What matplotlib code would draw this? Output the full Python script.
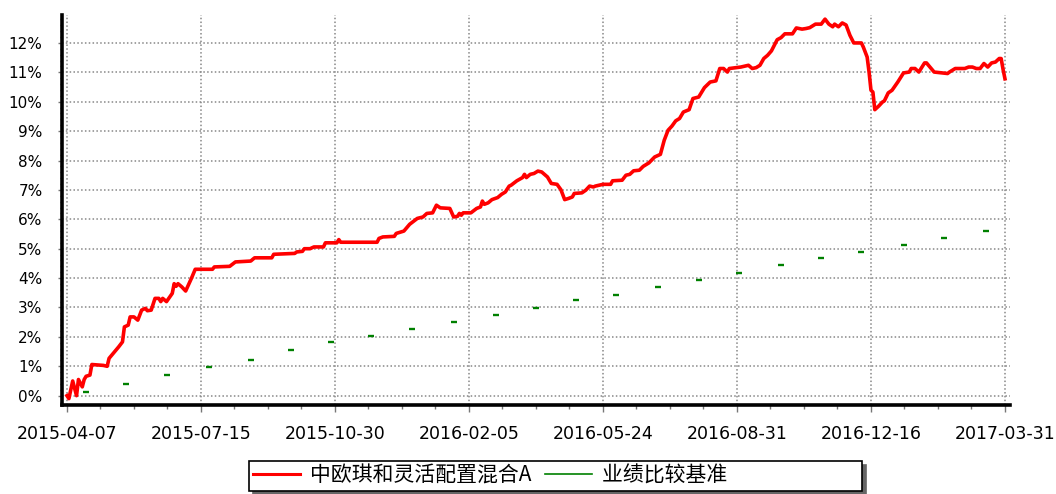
import numpy as np
import matplotlib
matplotlib.use("Agg")
import matplotlib.pyplot as plt
from matplotlib.lines import Line2D
from matplotlib.ticker import MultipleLocator, FuncFormatter

# trading-day index -> cumulative return (%) of the fund
days = [0, 1, 3, 5, 6, 8, 9, 10, 12, 13, 19, 21, 22, 27, 29, 30, 32, 33, 35, 37,
        39, 41, 42, 44, 46, 48, 49, 50, 52, 55, 56, 57, 58, 60, 62, 65, 67, 76, 77, 85,
        88, 96, 98, 107, 108, 119, 120, 123, 124, 127, 129, 134, 135, 141, 142, 143, 162, 163, 165, 171,
        172, 176, 179, 183, 186, 188, 191, 193, 195, 200, 202, 204, 205, 206, 207, 211, 214, 216, 217, 218,
        220, 222, 225, 227, 229, 231, 232, 235, 238, 239, 240, 242, 244, 246, 248, 251, 253, 256, 258, 260,
        262, 264, 265, 269, 271, 273, 275, 276, 280, 284, 285, 290, 292, 294, 296, 299, 301, 304, 307, 310,
        312, 314, 316, 318, 320, 322, 325, 327, 330, 333, 336, 339, 341, 343, 345, 346, 352, 356, 358, 360,
        362, 364, 366, 368, 371, 373, 375, 379, 381, 384, 386, 388, 391, 394, 396, 398, 400, 401, 403, 405,
        407, 409, 411, 415, 416, 418, 419, 420, 421, 422, 424, 426, 427, 429, 431, 434, 437, 440, 441, 443,
        445, 448, 449, 453, 460, 461, 464, 469, 471, 473, 475, 477, 479, 481, 483, 485, 487, 488, 489, 490]
fund = [0.00, -0.10, 0.50, 0.00, 0.55, 0.30, 0.55, 0.66, 0.70, 1.06, 1.03, 1.00, 1.27, 1.66, 1.83, 2.34, 2.40, 2.68, 2.68, 2.57,
        2.91, 2.97, 2.89, 2.91, 3.31, 3.31, 3.20, 3.31, 3.20, 3.48, 3.81, 3.72, 3.81, 3.70, 3.56, 3.99, 4.30, 4.30, 4.38, 4.40,
        4.55, 4.58, 4.69, 4.69, 4.81, 4.84, 4.89, 4.91, 5.00, 5.00, 5.06, 5.06, 5.20, 5.20, 5.31, 5.22, 5.22, 5.35, 5.40, 5.42,
        5.52, 5.60, 5.83, 6.03, 6.08, 6.20, 6.22, 6.48, 6.39, 6.37, 6.08, 6.10, 6.20, 6.14, 6.22, 6.22, 6.37, 6.42, 6.62, 6.51,
        6.56, 6.67, 6.74, 6.85, 6.93, 7.13, 7.16, 7.31, 7.42, 7.53, 7.42, 7.53, 7.56, 7.64, 7.61, 7.44, 7.22, 7.19, 7.01, 6.67,
        6.71, 6.76, 6.88, 6.90, 6.99, 7.13, 7.10, 7.13, 7.19, 7.19, 7.31, 7.33, 7.50, 7.53, 7.65, 7.67, 7.80, 7.92, 8.12, 8.21,
        8.69, 9.03, 9.17, 9.35, 9.43, 9.65, 9.73, 10.11, 10.16, 10.48, 10.67, 10.71, 11.13, 11.13, 11.01, 11.13, 11.18, 11.24, 11.13, 11.16,
        11.24, 11.47, 11.58, 11.73, 12.11, 12.18, 12.31, 12.31, 12.51, 12.47, 12.49, 12.52, 12.64, 12.64, 12.81, 12.64, 12.55, 12.64, 12.55, 12.68,
        12.61, 12.26, 12.00, 12.00, 11.86, 11.52, 11.01, 10.39, 10.33, 9.73, 9.85, 9.99, 10.03, 10.30, 10.39, 10.67, 10.98, 11.01, 11.13, 11.13,
        11.01, 11.32, 11.32, 11.01, 10.96, 11.01, 11.13, 11.13, 11.18, 11.18, 11.13, 11.13, 11.30, 11.18, 11.32, 11.35, 11.47, 11.47, 11.10, 10.78]

# benchmark (only visible as short dashes)
bench_days = [10, 31, 52, 74, 96, 117, 138, 159, 180, 202, 224, 245, 266, 287, 309, 330,
              351, 373, 394, 415, 437, 458, 480]
bench = [0.11, 0.41, 0.70, 0.98, 1.23, 1.55, 1.82, 2.03, 2.26, 2.50, 2.74, 2.99, 3.25, 3.42, 3.69, 3.93,
         4.17, 4.44, 4.68, 4.89, 5.11, 5.35, 5.60]

tick_days = [0, 70, 140, 210, 280, 350, 420, 490]
tick_labels = ["2015-04-07", "2015-07-15", "2015-10-30", "2016-02-05",
               "2016-05-24", "2016-08-31", "2016-12-16", "2017-03-31"]

fund_name = "中欧琪和灵活配置混合A"
bench_name = "业绩比较基准"

plt.rcParams['font.family'] = ['DejaVu Sans']
cjk = ['Noto Sans CJK SC', 'DejaVu Sans']

fig = plt.figure(figsize=(10.56, 4.94), dpi=100)
ax = fig.add_axes([0.0587, 0.180, 0.8977, 0.789])

ax.plot(days, fund, color='red', lw=2.6, zorder=3)
ax.plot(bench_days, bench, linestyle='none', marker='_', ms=3.8, mew=1.7,
        color='green', zorder=3)

ax.set_xlim(-2.6, 492.6)
ax.set_ylim(-0.32, 12.94)

ax.set_xticks(tick_days)
ax.set_xticklabels(tick_labels, fontsize=12.5)
ax.xaxis.set_minor_locator(MultipleLocator(17.5))
ax.yaxis.set_major_locator(MultipleLocator(1))
ax.yaxis.set_minor_locator(MultipleLocator(0.2))
ax.yaxis.set_major_formatter(FuncFormatter(lambda v, p: "%d%%" % round(v)))
ax.tick_params(axis='y', labelsize=11)

ax.tick_params(axis='x', which='major', length=5, width=1, color='#777777', pad=9)
ax.tick_params(axis='x', which='minor', length=3, width=1, color='#777777')
ax.tick_params(axis='y', which='major', length=3, width=1, color='#777777', pad=11)
ax.tick_params(axis='y', which='minor', length=1.5, width=1, color='#777777')

ax.grid(True, which='major', color='#888888', linestyle=(0, (1, 1.5)), lw=1.1)

for s in ['top', 'right']:
    ax.spines[s].set_visible(False)
for s in ['left', 'bottom']:
    ax.spines[s].set_linewidth(2.6)
    ax.spines[s].set_color('black')

# legend box in the original leaves blank room after the last entry
handles = [Line2D([], [], color='red', lw=2.2), Line2D([], [], color='green', lw=1.2)]
leg = fig.legend(handles, [fund_name, bench_name + "\u3000" * 6 + " "], loc='center',
                 bbox_to_anchor=(0.5256, 0.037), ncol=2, frameon=True,
                 prop={'family': cjk, 'size': 15}, handlelength=2.25,
                 handletextpad=0.5, columnspacing=0.65, borderpad=0.2,
                 borderaxespad=0, fancybox=False,
                 shadow={'ox': 3, 'oy': -3, 'color': '#666666', 'alpha': 1})
leg.get_frame().set_edgecolor('black')
leg.get_frame().set_linewidth(1.2)

fig.savefig("out.png", dpi=100)
